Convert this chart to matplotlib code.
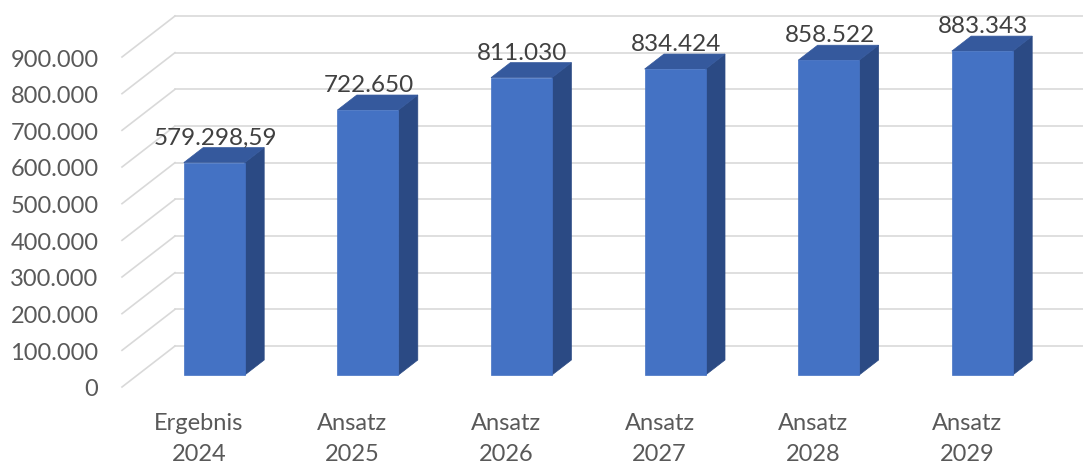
import matplotlib
matplotlib.use("Agg")
import matplotlib.pyplot as plt
from matplotlib.patches import Polygon

categories = ["Ergebnis\n2024", "Ansatz\n2025", "Ansatz\n2026", "Ansatz\n2027", "Ansatz\n2028", "Ansatz\n2029"]
values = [579298.59, 722650, 811030, 834424, 858522, 883343]
value_labels = ["579.298,59", "722.650", "811.030", "834.424", "858.522", "883.343"]
yticks = [0, 100000, 200000, 300000, 400000, 500000, 600000, 700000, 800000, 900000]
ytick_labels = ["0", "100.000", "200.000", "300.000", "400.000", "500.000", "600.000", "700.000", "800.000", "900.000"]

W, H = 1083, 464
fig = plt.figure(figsize=(W / 100, H / 100), dpi=100)
left_px, right_px = 122, 122 + 6 * 153.6
bot_px, top_px = 388, 58
ax = fig.add_axes([left_px / W, (H - bot_px) / H, (right_px - left_px) / W, (bot_px - top_px) / H])
ax.set_xlim(-0.5, 5.5)
ax.set_ylim(0, 900000)
for s in ax.spines.values():
    s.set_visible(False)

px_x = 6 / (right_px - left_px)          # category units per pixel
px_y = 900000 / (bot_px - top_px)        # value units per pixel
DX = 53 * px_x
DY = 41 * px_y

grid_c = "#D9D9D9"
for v in yticks:
    ax.plot([-0.5, -0.5 + DX], [v, v + DY], color=grid_c, lw=1.2, clip_on=False, zorder=1)
    ax.plot([-0.5 + DX, 5.5 + DX], [v + DY, v + DY], color=grid_c, lw=1.2, clip_on=False, zorder=1)

front_c = "#4472C4"
side_c = "#2B4A84"
top_c = "#35599D"
d0, d1 = 12 / 41, 27 / 41
w = 61 * px_x
ddx, ddy = (d1 - d0) * DX, (d1 - d0) * DY
for i, v in enumerate(values):
    xl = i - w / 2 + d0 * DX
    xr = xl + w
    b = d0 * DY
    t = v + d0 * DY
    ax.add_patch(Polygon([(xr, b), (xr, t), (xr + ddx, t + ddy), (xr + ddx, b + ddy)],
                         closed=True, facecolor=side_c, edgecolor=side_c, lw=0.5, clip_on=False, zorder=3))
    ax.add_patch(Polygon([(xl, t), (xr, t), (xr + ddx, t + ddy), (xl + ddx, t + ddy)],
                         closed=True, facecolor=top_c, edgecolor=top_c, lw=0.5, clip_on=False, zorder=3))
    ax.add_patch(Polygon([(xl, b), (xr, b), (xr, t), (xl, t)],
                         closed=True, facecolor=front_c, edgecolor=front_c, lw=0.5, clip_on=False, zorder=4))
    ax.text((xl + xr) / 2 + 1 * px_x, v + d1 * DY + 4 * px_y, value_labels[i], ha="center", va="baseline",
            fontsize=17.5, family="Lato", color="#404040", zorder=5, clip_on=False)

text_c = "#595959"
ax.set_yticks(yticks)
ax.set_yticklabels(ytick_labels, family="Lato", fontsize=17, color=text_c)
ax.set_xticks(range(len(categories)))
ax.set_xticklabels(categories, family="Lato", fontsize=17, color=text_c, linespacing=1.6)
ax.tick_params(axis="y", length=0, pad=17)
ax.tick_params(axis="x", length=0, pad=18)

fig.savefig("out.png", dpi=100)
